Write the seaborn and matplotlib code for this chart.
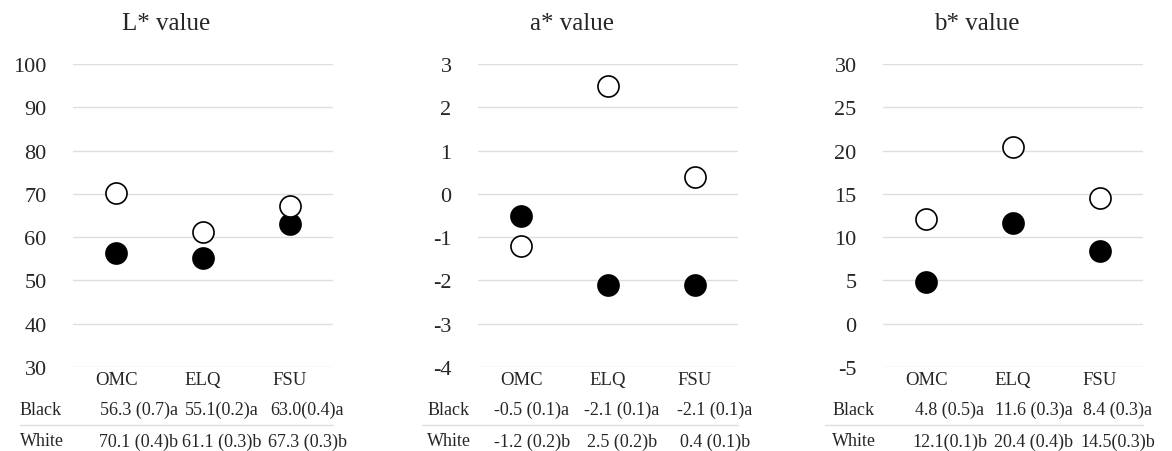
import matplotlib
matplotlib.use("Agg")
import matplotlib.pyplot as plt
import pandas as pd
import seaborn as sns
import numpy as np

sites = ["OMC", "ELQ", "FSU"]

L_black = [56.3, 55.1, 63.0]
L_white = [70.1, 61.1, 67.3]
a_black = [-0.5, -2.1, -2.1]
a_white = [-1.2, 2.5, 0.4]
b_black = [4.8, 11.6, 8.4]
b_white = [12.1, 20.4, 14.5]

L_black_txt = ["56.3 (0.7)a", "55.1(0.2)a", "63.0(0.4)a"]
L_white_txt = ["70.1 (0.4)b", "61.1 (0.3)b", "67.3 (0.3)b"]
a_black_txt = ["-0.5 (0.1)a", "-2.1 (0.1)a", "-2.1 (0.1)a"]
a_white_txt = ["-1.2 (0.2)b", "2.5 (0.2)b", "0.4 (0.1)b"]
b_black_txt = ["4.8 (0.5)a", "11.6 (0.3)a", "8.4 (0.3)a"]
b_white_txt = ["12.1(0.1)b", "20.4 (0.4)b", "14.5(0.3)b"]

titles = ["L* value", "a* value", "b* value"]
y_ticks = [np.arange(30, 101, 10), np.arange(-4, 4, 1), np.arange(-5, 31, 5)]

sns.set_theme(style="white")
plt.rcParams['font.family'] = ['Liberation Serif', 'DejaVu Serif']
plt.rcParams['axes.unicode_minus'] = False

fig = plt.figure(figsize=(11.72, 4.52), dpi=100)
lefts = [73 / 1172, 478 / 1172, 883 / 1172]
bottom = 1 - 368 / 452
height = (368 - 65) / 452
width = 260 / 1172

panels = [
    (L_black, L_white, L_black_txt, L_white_txt),
    (a_black, a_white, a_black_txt, a_white_txt),
    (b_black, b_white, b_black_txt, b_white_txt),
]
# per panel: table text x shift, line start, row label start (axes fraction)
txt_shift = [[0.26, 0.22, 0.2], [0.12, 0.16, 0.23], [0.27, 0.24, 0.21]]
line_start = [-0.204, -0.215, -0.223]
label_start = [-0.204, -0.196, -0.196]

for k, (blk, wht, btxt, wtxt) in enumerate(panels):
    ax = fig.add_axes([lefts[k], bottom, width, height])
    df = pd.DataFrame({"site": sites * 2,
                       "value": blk + wht,
                       "group": ["Black"] * 3 + ["White"] * 3})
    for grp, fc in [("Black", "black"), ("White", "white")]:
        sns.scatterplot(data=df[df["group"] == grp], x="site", y="value",
                        color=fc, edgecolor="black", linewidth=1.2,
                        s=230, ax=ax, zorder=3, legend=False)
    ax.set_xlim(-0.5, 2.5)
    ticks = y_ticks[k]
    ax.set_ylim(ticks[0], ticks[-1])
    ax.set_yticks(ticks)
    ax.set_yticklabels([str(t) for t in ticks])
    ax.yaxis.grid(True, color="#dedede", linewidth=1)
    ax.set_axisbelow(True)
    for sp in ax.spines.values():
        sp.set_visible(False)
    ax.tick_params(axis="y", length=0, pad=19, labelsize=16)
    ax.tick_params(axis="x", length=0, pad=3, labelsize=13.5)
    ax.set_xlabel("")
    ax.set_ylabel("")
    ax.text(0.36, 1.135, titles[k], transform=ax.transAxes, ha="center",
            va="center", fontsize=18)

    trans = ax.get_xaxis_transform()
    ax.text(label_start[k], -0.139, "Black", transform=ax.transAxes,
            ha="left", va="center", fontsize=13)
    ax.text(label_start[k], -0.244, "White", transform=ax.transAxes,
            ha="left", va="center", fontsize=13)
    for i in range(3):
        ax.text(i + txt_shift[k][i], -0.139, btxt[i], transform=trans,
                ha="center", va="center", fontsize=13)
        ax.text(i + txt_shift[k][i], -0.244, wtxt[i], transform=trans,
                ha="center", va="center", fontsize=13)
    ax.plot([line_start[k], 1.0], [-0.191, -0.191], transform=ax.transAxes,
            color="#dedede", linewidth=1, clip_on=False)

fig.savefig("out.png", dpi=100)
